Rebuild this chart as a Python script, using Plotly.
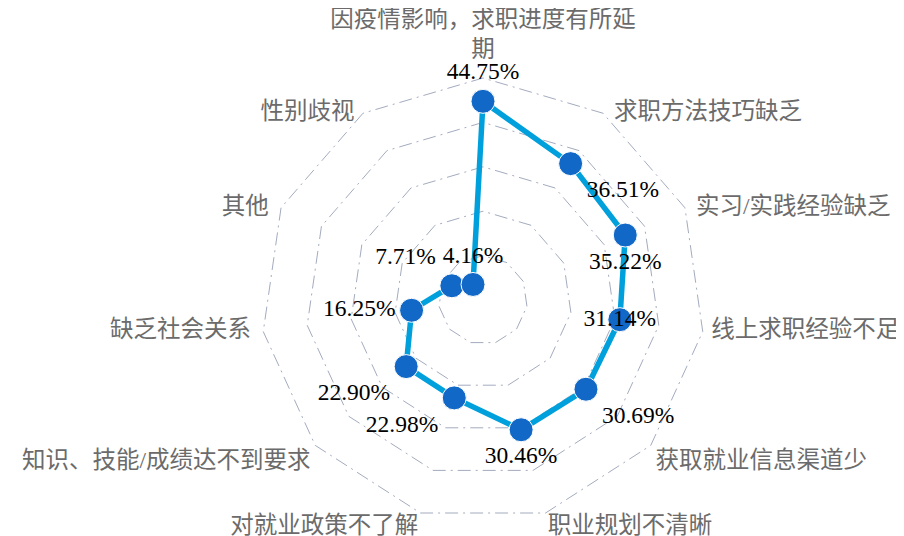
import plotly.graph_objects as go

categories = [
    "因疫情影响，求职进度有所延<br>期",
    "求职方法技巧缺乏",
    "实习/实践经验缺乏",
    "线上求职经验不足",
    "获取就业信息渠道少",
    "职业规划不清晰",
    "对就业政策不了解",
    "知识、技能/成绩达不到要求",
    "缺乏社会关系",
    "其他",
    "性别歧视",
]
values = [44.75, 36.51, 35.22, 31.14, 30.69, 30.46, 22.98, 22.90, 16.25, 7.71, 4.16]
label_pos = ["top center", "bottom right", "bottom center", "middle center", "bottom right",
             "bottom center", "bottom left", "bottom left", "middle left", "top left", "top center"]
cat_label_pos = ["top center", "middle right", "middle right", "middle right", "bottom right",
                 "bottom right", "bottom left", "bottom left", "middle left", "middle left", "middle left"]
cat_label_pad = [22, 16, 16, 12, 6, 2, 2, 6, 18, 18, 12]
radial_ticks = [10, 20, 30, 40, 50]
r_max = 51

# the page body has an 8px margin, so the figure is drawn 8px right/down
W, H = 896, 528
cx, cy = 483 - 8, 300 - 8
R = 222 * r_max / 50

fig = go.Figure()
fig.add_trace(go.Scatterpolar(
    r=values + [values[0]],
    theta=categories + [categories[0]],
    mode="lines",
    line=dict(color="#00A0DC", width=5.5),
    hoverinfo="skip",
    showlegend=False,
))
fig.add_trace(go.Scatterpolar(
    r=values,
    theta=categories,
    mode="markers+text",
    marker=dict(color="#1168C6", size=24, line=dict(color="white", width=1)),
    text=[f"{v:.2f}%" for v in values],
    textposition=label_pos,
    textfont=dict(family="Liberation Serif, Times New Roman, serif", size=23.5, color="black"),
    showlegend=False,
))
# category labels placed just outside the outer grid ring
fig.add_trace(go.Scatterpolar(
    r=[radial_ticks[-1]] * len(categories),
    theta=categories,
    mode="markers+text",
    marker=dict(size=cat_label_pad, opacity=0),
    text=categories,
    textposition=cat_label_pos,
    textfont=dict(family="Liberation Serif, Noto Sans CJK SC, serif", size=23.5, color="#6B6B6B"),
    hoverinfo="skip",
    cliponaxis=False,
    showlegend=False,
))

fig.update_layout(
    width=W, height=H,
    margin=dict(l=0, r=0, t=0, b=0),
    paper_bgcolor="white",
    plot_bgcolor="white",
    polar=dict(
        domain=dict(x=[(cx - R) / W, (cx + R) / W], y=[(H - cy - R) / H, (H - cy + R) / H]),
        bgcolor="white",
        gridshape="linear",
        radialaxis=dict(
            range=[0, r_max],
            tickvals=radial_ticks,
            showticklabels=False,
            ticks="",
            showline=False,
            showgrid=True,
            gridcolor="#A3ABBE",
            gridwidth=1.3,
            griddash="13px,5px,2px,5px",
        ),
        angularaxis=dict(
            type="category",
            categoryorder="array",
            categoryarray=categories,
            direction="clockwise",
            rotation=90,
            showgrid=False,
            showline=False,
            showticklabels=False,
            ticks="",
        ),
    ),
)

fig.write_html("out.html")
